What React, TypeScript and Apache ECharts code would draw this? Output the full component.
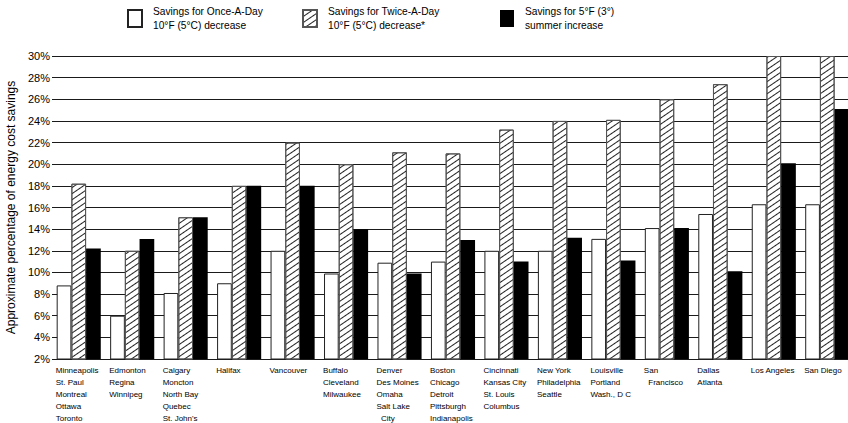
import React, { useEffect, useRef } from "react";
import * as echarts from "echarts";

const cities: string[][] = [
  ["Minneapolis", "St. Paul", "Montreal", "Ottawa", "Toronto"],
  ["Edmonton", "Regina", "Winnipeg"],
  ["Calgary", "Moncton", "North Bay", "Quebec", "St. John's"],
  ["Halifax"],
  ["Vancouver"],
  ["Buffalo", "Cleveland", "Milwaukee"],
  ["Denver", "Des Moines", "Omaha", "Salt Lake", "\u00a0\u00a0City"],
  ["Boston", "Chicago", "Detroit", "Pittsburgh", "Indianapolis"],
  ["Cincinnati", "Kansas City", "St. Louis", "Columbus"],
  ["New York", "Philadelphia", "Seattle"],
  ["Louisville", "Portland", "Wash., D C"],
  ["San", "\u00a0\u00a0Francisco"],
  ["Dallas", "Atlanta"],
  ["Los Angeles"],
  ["San Diego"],
];

const onceADay = [8.8, 6.0, 8.1, 9.0, 12.0, 9.9, 10.9, 11.0, 12.0, 12.0, 13.1, 14.1, 15.4, 16.3, 16.3];
const twiceADay = [18.2, 12.0, 15.1, 18.0, 22.0, 20.0, 21.1, 21.0, 23.2, 24.0, 24.1, 26.0, 27.4, 30.0, 30.0];
const summer = [12.2, 13.1, 15.1, 18.0, 18.0, 14.0, 9.9, 13.0, 11.0, 13.2, 11.1, 14.1, 10.1, 20.1, 25.1];

const seriesNames = [
  "Savings for Once-A-Day\n10°F (5°C) decrease",
  "Savings for Twice-A-Day\n10°F (5°C) decrease*",
  "Savings for 5°F (3°)\nsummer increase",
];

const FONT = "'Liberation Sans', Arial, sans-serif";

export default function App() {
  const ref = useRef<HTMLDivElement>(null);
  useEffect(() => {
    if (!ref.current) return;
    const chart = echarts.init(ref.current, undefined, { renderer: "svg" });
    const legendBase = {
      orient: "horizontal" as const,
      itemWidth: 14,
      itemHeight: 17,
      icon: "rect",
      padding: 0,
      selectedMode: false,
      textStyle: { fontFamily: FONT, fontSize: 10.2, lineHeight: 14, color: "#000", padding: [7, 0, 0, 6] },
    };
    chart.setOption({
      animation: false,
      textStyle: { fontFamily: FONT },
      legend: [
        { ...legendBase, data: [seriesNames[0]], left: 127, top: 1 },
        { ...legendBase, data: [seriesNames[1]], left: 302, top: 1 },
        { ...legendBase, data: [seriesNames[2]], left: 500, top: 1 },
      ],
      grid: { left: 52, top: 56, width: 802, height: 303, containLabel: false, outerBoundsMode: "none" },
      xAxis: {
        type: "category",
        data: cities.map((c) => c.join("\n")),
        axisLine: { show: false },
        axisTick: { show: false },
        axisLabel: {
          interval: 0,
          margin: 5,
          color: "#000",
          fontSize: 8,
          lineHeight: 12,
          verticalAlign: "top",
          formatter: (v: string) => v.split("\n").map((l) => "{a|" + l + "}").join("\n"),
          rich: { a: { width: 46, align: "left", fontSize: 8, lineHeight: 12, fontFamily: FONT, color: "#000" } },
        },
      },
      yAxis: {
        type: "value",
        min: 2,
        max: 30,
        interval: 2,
        name: "Approximate percentage of energy cost savings",
        nameLocation: "middle",
        nameGap: 34,
        nameRotate: 90,
        nameTextStyle: { fontSize: 12, color: "#000", fontFamily: FONT },
        axisLine: { show: false },
        axisTick: { show: false },
        axisLabel: { formatter: "{value}%", fontSize: 11, color: "#000", margin: 2 },
        splitLine: { lineStyle: { color: "#1a1a1a", width: 1 } },
      },
      series: [
        {
          name: seriesNames[0],
          type: "bar",
          data: onceADay,
          barWidth: 14.7,
          barGap: "0%",
          itemStyle: { color: "#fff", borderColor: "#222", borderWidth: 1 },
        },
        {
          name: seriesNames[1],
          type: "bar",
          data: twiceADay,
          barWidth: 14.7,
          barGap: "0%",
          itemStyle: {
            color: "#fff",
            borderColor: "#555",
            borderWidth: 1,
            decal: {
              symbol: "rect",
              symbolSize: 1,
              color: "#222",
              dashArrayX: [1, 0],
              dashArrayY: [1, 3.5],
              rotation: -0.6,
            },
          },
        },
        {
          name: seriesNames[2],
          type: "bar",
          data: summer,
          barWidth: 14.7,
          barGap: "0%",
          itemStyle: { color: "#000", borderColor: "#000", borderWidth: 0 },
        },
      ],
    });
    return () => chart.dispose();
  }, []);
  return <div ref={ref} style={{ position: "fixed", left: 0, top: 0, width: 848, height: 423, background: "#fff" }} />;
}
